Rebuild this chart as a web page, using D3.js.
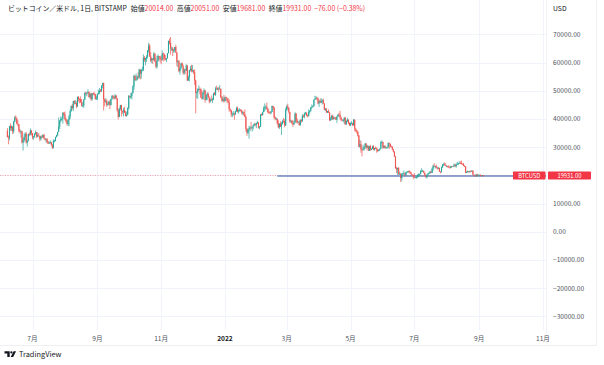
<!DOCTYPE html>
<html>
<head>
<meta charset="utf-8">
<script src="https://cdn.jsdelivr.net/npm/d3@7/dist/d3.min.js"></script>
<style>
  html, body { margin: 0; padding: 0; background: #fff; }
  svg { display: block; }
  text { font-family: "Noto Sans CJK JP", "Noto Sans", sans-serif; }
</style>
</head>
<body>
<svg id="chart" width="604" height="365"></svg>
<script>
// ---------------- DATA (BTC/USD daily, values in thousands of USD) ----------------
const startDate = "2021-06-07";
const firstOpen = 35.8;
const closes = [
 // 2021-06 (7..30)
 33.6,33.4,37.4,36.7,37.3,35.6,39.0,40.5,40.1,38.3,38.1,35.8,35.5,35.6,31.6,32.5,33.7,34.7,31.6,32.2,34.7,34.5,35.9,35.0,
 // 2021-07
 33.5,33.8,34.7,35.3,33.7,34.2,33.9,32.9,33.8,33.5,34.3,33.1,32.7,32.8,31.8,31.4,31.5,31.8,30.8,29.8,32.1,32.3,33.6,34.3,35.4,37.3,39.4,40.0,40.0,42.2,41.6,
 // 2021-08
 39.9,39.2,38.2,39.7,40.9,42.8,44.6,43.8,46.3,45.6,45.6,44.4,47.8,47.1,47.0,45.9,44.7,44.7,46.8,49.3,48.9,49.3,49.5,47.7,48.9,47.0,49.1,48.9,48.8,47.0,47.2,
 // 2021-09
 48.8,49.3,50.0,49.9,51.8,52.7,46.9,46.1,46.4,44.9,45.2,46.1,44.9,47.1,48.2,47.8,47.3,48.3,47.3,43.0,40.7,43.6,44.9,42.8,42.7,43.2,42.2,41.0,41.5,43.8,
 // 2021-10
 48.1,47.7,48.2,49.2,51.5,55.3,53.8,53.9,55.0,54.7,57.5,56.0,57.4,57.4,61.7,60.9,61.5,62.0,64.3,66.0,62.2,60.7,61.4,60.9,63.1,60.4,58.5,60.6,62.3,61.9,61.3,
 // 2021-11
 61.0,63.2,62.9,61.4,61.0,61.5,63.3,67.6,66.9,64.9,64.9,64.2,64.4,65.5,63.6,60.1,60.4,56.9,58.1,59.7,58.7,56.3,57.5,57.2,58.9,53.6,54.8,57.3,57.8,57.0,
 // 2021-12
 57.2,56.5,53.6,49.2,49.4,50.6,50.6,50.5,47.6,47.1,49.4,50.1,46.7,48.4,48.9,47.6,46.2,46.8,46.7,46.9,49.0,48.6,50.8,50.4,50.8,50.6,50.7,47.5,46.5,47.1,46.3,
 // 2022-01
 47.7,47.3,46.4,45.9,43.5,43.1,41.6,41.8,41.9,41.8,42.7,43.9,42.6,43.1,43.2,43.1,42.2,42.4,41.7,40.7,36.5,35.1,36.3,36.7,36.9,36.8,37.2,37.7,38.2,37.9,38.5,
 // 2022-02
 38.7,36.9,37.3,41.6,41.4,42.4,43.8,44.1,44.3,43.6,42.4,42.2,42.1,42.5,44.6,44.0,40.5,40.0,40.1,38.4,37.0,38.3,37.3,38.3,39.2,39.1,37.7,43.2,
 // 2022-03
 44.4,43.9,42.5,39.1,39.4,38.4,38.0,38.7,41.9,39.4,38.7,38.8,37.8,39.7,39.3,41.1,40.9,41.8,42.2,41.3,41.0,42.4,42.9,44.0,44.3,44.5,46.8,47.1,47.5,47.1,45.5,
 // 2022-04
 46.3,45.8,46.4,46.6,45.5,43.2,43.4,42.3,42.8,42.2,39.5,40.1,41.1,39.9,40.5,40.4,39.7,40.8,41.5,41.4,40.5,39.7,39.5,39.5,40.4,38.1,39.2,39.7,38.6,37.7,
 // 2022-05
 38.5,38.5,37.7,39.7,36.5,36.0,35.5,34.1,30.1,31.0,29.1,29.0,29.3,30.1,31.3,29.9,30.4,28.7,30.3,29.2,29.4,30.3,29.1,29.7,29.5,29.2,28.6,29.0,29.4,31.7,31.8,
 // 2022-06
 29.8,30.4,29.7,29.9,29.9,31.4,31.1,30.2,30.1,29.1,28.4,26.6,22.5,22.1,22.6,20.4,20.5,19.0,20.6,20.6,20.7,20.0,21.1,21.2,21.5,21.0,20.7,20.3,20.1,19.8,
 // 2022-07
 19.3,19.3,19.3,20.2,20.2,20.5,21.6,21.6,21.6,20.9,20.0,19.3,20.2,20.6,20.8,21.2,20.8,22.4,23.4,23.2,23.2,22.7,22.5,22.6,21.3,21.2,22.9,23.8,23.8,23.6,23.3,
 // 2022-08
 23.3,23.0,22.8,22.6,23.3,23.0,23.2,23.8,23.2,23.9,23.9,24.4,24.4,24.3,24.1,23.9,23.3,23.2,20.8,21.1,21.5,21.4,21.5,21.4,21.6,20.3,20.0,19.6,20.3,19.8,20.0,
 // 2022-09 (1..5)
 20.1,19.95,19.8,20.007,19.931
];
const highs = [
 36.8,34.1,37.5,38.4,37.7,37.4,39.3,41.0,41.3,40.5,39.5,38.2,36.4,36.0,35.7,33.3,34.8,35.2,35.4,32.7,34.7,35.2,36.6,36.0,
 35.0,33.9,34.9,35.9,35.3,35.1,35.0,33.9,34.1,34.3,34.6,34.7,33.3,33.1,33.2,32.2,31.9,32.4,31.9,31.0,32.8,32.6,33.7,34.4,35.4,40.5,39.5,40.9,40.6,42.3,42.4,
 42.6,40.4,39.7,39.9,41.4,43.4,44.7,45.3,46.4,46.6,46.7,46.2,47.9,48.1,47.3,48.0,47.1,45.9,47.0,49.3,49.7,49.4,50.5,49.8,49.2,49.3,49.2,49.3,49.6,48.9,48.2,
 48.9,50.3,51.0,50.6,51.9,52.8,52.9,47.3,47.3,47.0,45.9,46.4,46.7,47.2,48.4,48.5,48.1,48.8,48.4,47.3,43.6,44.0,45.0,45.0,42.9,43.9,44.3,42.8,42.6,44.1,
 48.5,48.3,49.2,49.5,51.9,55.7,55.3,56.1,55.4,56.5,57.8,57.6,57.6,58.5,62.9,62.3,61.7,62.6,64.4,67.0,66.6,63.7,61.7,61.5,63.7,63.3,61.5,62.4,62.9,62.3,62.4,
 62.4,64.3,63.5,63.1,62.6,61.6,63.3,67.8,68.5,69.0,65.6,65.5,64.9,65.5,66.3,63.6,60.8,60.9,58.4,59.9,60.1,59.3,57.9,57.7,59.4,59.1,55.3,57.4,58.8,59.2,
 59.1,57.4,57.6,53.9,49.7,50.9,51.9,51.2,50.8,50.1,49.5,50.8,50.3,48.7,49.5,49.4,48.0,47.3,48.3,47.5,49.3,49.6,51.4,51.8,51.2,51.3,52.0,50.7,48.1,47.9,48.5,
 47.9,47.9,47.5,47.5,47.0,43.7,43.1,42.3,42.8,42.2,43.0,44.3,44.4,43.4,43.8,43.5,43.2,42.7,42.6,43.4,41.1,36.8,36.4,37.5,37.5,38.9,37.2,38.0,38.6,38.4,38.7,
 39.3,38.8,37.4,41.7,42.0,42.6,44.5,45.5,44.8,45.8,43.9,43.0,42.7,42.8,44.7,44.6,44.2,40.9,40.5,40.1,39.5,38.4,39.2,38.9,39.7,40.3,39.9,44.0,
 45.0,45.4,44.1,42.5,39.6,39.4,39.5,39.3,42.4,42.0,40.2,39.3,39.3,39.8,39.8,41.7,41.5,42.3,42.4,42.3,41.5,43.4,43.0,44.2,45.1,44.8,46.9,48.2,48.1,47.7,47.6,
 46.7,47.2,47.4,46.9,47.2,45.5,43.9,43.9,42.8,43.4,42.4,40.7,41.5,41.5,40.9,40.7,40.6,41.1,41.7,42.2,42.9,40.8,39.9,39.9,40.6,40.8,39.5,40.4,39.9,38.8,
 38.7,39.2,38.6,40.0,39.8,36.6,36.1,35.5,34.3,32.6,32.2,30.0,30.9,30.3,31.4,31.3,30.8,30.5,30.5,30.8,29.6,30.5,30.7,29.8,30.2,29.9,29.4,29.2,29.5,32.2,32.4,
 31.9,30.6,30.7,29.9,30.2,31.7,31.6,31.3,30.6,30.3,29.4,28.5,26.9,23.0,22.7,22.9,21.3,20.7,20.7,21.0,21.7,20.9,21.2,21.5,21.6,21.8,21.5,21.2,20.4,20.2,
 20.8,19.4,19.6,20.3,20.7,20.6,21.8,22.5,21.9,21.6,20.9,20.0,20.3,20.8,21.2,21.6,21.7,22.8,23.8,24.3,23.4,23.8,23.0,23.0,22.7,21.4,23.1,24.0,24.4,24.6,24.2,
 23.5,23.4,23.6,23.2,23.4,23.3,23.3,24.2,23.9,24.2,24.8,24.4,24.9,25.0,25.2,24.2,24.4,23.6,23.2,21.4,21.7,21.5,21.6,21.8,21.8,21.8,20.3,20.1,20.4,20.6,20.5,
 20.2,20.4,20.0,20.02,20.051
];
const lows = [
 33.4,31.0,32.4,35.8,35.7,34.6,34.8,38.8,39.5,38.1,37.4,35.2,34.8,33.4,31.3,28.8,31.7,32.3,31.3,30.2,32.0,33.9,34.2,34.1,
 32.7,32.7,33.3,34.4,33.2,33.5,33.8,32.1,32.3,33.1,33.3,32.7,32.3,31.6,31.2,31.1,31.2,31.2,30.5,29.3,29.5,31.7,32.0,33.4,33.9,35.3,36.4,38.8,39.3,38.3,41.1,
 39.5,38.7,37.7,37.5,37.4,39.9,42.5,43.3,42.8,45.1,45.4,43.8,44.3,46.1,45.5,45.7,44.4,44.2,43.9,46.7,48.3,48.0,49.0,47.6,47.2,46.4,46.5,48.4,48.3,46.9,46.7,
 46.7,48.6,48.7,49.5,49.5,50.9,43.0,44.5,45.6,44.2,44.8,44.8,43.5,44.8,46.8,47.1,46.8,47.1,46.9,42.6,39.8,40.6,43.1,40.9,41.8,40.9,42.1,40.9,40.8,41.4,
 43.3,47.5,47.1,46.9,49.1,50.4,53.4,53.6,53.7,54.1,54.4,54.0,54.2,56.9,56.9,60.2,59.0,60.1,61.4,63.5,62.0,60.1,59.7,59.5,60.7,60.1,58.0,57.8,60.3,60.7,60.0,
 59.4,60.7,60.4,60.7,60.8,60.1,61.4,63.3,66.3,62.8,64.1,62.3,63.4,63.6,63.4,58.6,58.4,56.5,55.7,57.5,58.6,55.7,55.6,55.9,57.0,53.5,53.7,53.3,56.8,56.5,
 56.5,55.9,52.1,42.0,47.3,47.1,50.1,48.7,47.4,46.9,46.8,48.7,45.7,46.6,46.6,47.5,45.5,45.8,46.4,45.6,46.6,48.4,48.1,50.4,50.2,49.5,50.5,47.4,46.1,46.0,45.7,
 46.2,46.6,45.7,45.5,42.6,42.5,40.7,40.6,41.2,39.7,41.3,42.5,42.3,41.8,42.6,42.6,41.6,41.3,41.1,40.6,35.5,34.0,34.6,33.0,35.7,36.3,35.5,36.2,37.4,37.4,36.7,
 38.2,36.6,36.3,37.1,41.1,41.2,42.4,42.7,43.2,43.3,42.0,41.8,41.9,41.6,42.4,43.3,40.1,39.5,39.6,38.0,36.8,36.4,37.1,34.3,38.0,38.6,37.0,37.5,
 42.8,43.4,41.9,38.6,38.6,38.1,37.2,37.9,38.7,38.6,38.3,38.7,37.6,37.6,38.6,38.9,40.5,40.2,41.5,40.9,40.5,40.9,41.9,42.6,43.6,44.1,44.4,46.7,46.9,46.6,45.2,
 44.2,45.6,45.6,45.1,45.4,43.1,42.8,42.1,42.1,42.1,39.2,39.3,39.6,39.6,39.8,40.0,39.6,38.6,40.6,40.9,39.8,39.2,39.3,38.9,38.2,37.8,37.9,38.9,38.2,37.6,
 37.4,38.1,37.5,37.7,35.6,35.3,34.8,33.7,30.0,29.8,28.0,26.7,28.8,28.7,29.5,29.1,29.6,28.7,28.7,28.7,28.9,29.2,28.9,28.7,29.3,28.0,28.3,28.5,28.8,29.3,31.2,
 29.3,29.6,29.4,29.5,29.5,29.9,29.3,29.9,30.0,28.9,28.1,26.6,22.3,20.8,20.1,20.2,20.2,17.6,17.9,19.7,20.4,19.8,19.9,20.8,20.9,20.9,20.5,20.2,19.9,18.6,
 19.0,19.0,18.8,19.1,19.3,19.8,20.3,21.2,21.3,20.7,19.9,19.2,18.9,19.7,20.4,20.5,20.8,20.8,21.6,23.0,22.4,22.5,22.0,22.3,21.3,20.7,21.0,22.6,23.4,23.5,23.2,
 22.9,22.7,22.7,22.4,22.6,22.9,22.9,23.2,22.9,22.7,23.9,23.6,24.3,24.0,23.8,23.7,23.2,23.1,20.8,20.8,21.1,20.9,20.9,21.2,21.3,20.1,19.9,19.6,19.6,19.6,19.8,
 19.6,19.8,19.7,19.6,19.681
];

// header / last bar values
const symbolTitle = "ビットコイン／米ドル, 1日, BITSTAMP";
const ohlcLabels = ["始値", "高値", "安値", "終値"];
const ohlcValues = ["20014.00", "20051.00", "19681.00", "19931.00"];
const changeText = "−76.00 (−0.38%)";
const lastPrice = 19931;
const symbolLabel = "BTCUSD";
const hLineValue = 19750;
const hLineStart = "2022-02-20";

const yTickValues = [70000, 60000, 50000, 40000, 30000, 20000, 10000, 0, -10000, -20000, -30000];
// the 20000.00 label is hidden behind the last-price label in the reference
const yHiddenLabel = 20000;
const xTickDates = ["2021-07-01","2021-09-01","2021-11-01","2022-01-01","2022-03-01","2022-05-01","2022-07-01","2022-09-01","2022-11-01"];
const xTickLabels = ["7月","9月","11月","2022","3月","5月","7月","9月","11月"];

// ---------------- BUILD ----------------
const parse = d3.utcParse("%Y-%m-%d");
const n = Math.min(closes.length, highs.length, lows.length);
const t0 = parse(startDate);
const candles = [];
for (let i = 0; i < n; i++) {
  const o = i === 0 ? firstOpen : closes[i - 1];
  const c = closes[i];
  candles.push({
    date: d3.utcDay.offset(t0, i),
    o: o * 1000, c: c * 1000,
    h: Math.max(highs[i], o, c) * 1000,
    l: Math.min(lows[i], o, c) * 1000
  });
}

const plotRight = 546;
const plotBottom = 330;
const svg = d3.select("#chart");

const x = d3.scaleUtc()
  .domain([parse("2021-07-01"), parse("2022-11-01")])
  .range([32.5, 543]);
const y = d3.scaleLinear().domain([0, 70000]).range([231.7, 34.3]);

const up = "#26a69a", down = "#ef5350";

// clip
const defs = svg.append("defs");
defs.append("clipPath").attr("id", "plotClip")
  .append("rect").attr("x", 0).attr("y", 0).attr("width", plotRight).attr("height", plotBottom);
defs.append("clipPath").attr("id", "timeClip")
  .append("rect").attr("x", 0).attr("y", plotBottom).attr("width", plotRight + 4).attr("height", 16);

// grid
const grid = svg.append("g").attr("clip-path", "url(#plotClip)");
grid.selectAll("line.hg").data(yTickValues).join("line")
  .attr("x1", 0).attr("x2", plotRight)
  .attr("y1", d => Math.round(y(d)) + 0.5).attr("y2", d => Math.round(y(d)) + 0.5)
  .attr("stroke", "#f0f3fa").attr("stroke-width", 1);
grid.selectAll("line.vg").data(xTickDates).join("line")
  .attr("x1", d => Math.round(x(parse(d))) + 0.5).attr("x2", d => Math.round(x(parse(d))) + 0.5)
  .attr("y1", 0).attr("y2", plotBottom)
  .attr("stroke", "#f0f3fa").attr("stroke-width", 1);

// borders
svg.append("line").attr("x1", plotRight + 0.5).attr("x2", plotRight + 0.5).attr("y1", 0).attr("y2", 345)
  .attr("stroke", "#f2f3f6");
svg.append("line").attr("x1", 596.5).attr("x2", 596.5).attr("y1", 0).attr("y2", 345)
  .attr("stroke", "#eeeff3");
svg.append("line").attr("x1", 0).attr("x2", 597).attr("y1", 345.5).attr("y2", 345.5)
  .attr("stroke", "#eeeff3");

// price line (dotted) and horizontal ray
const plot = svg.append("g").attr("clip-path", "url(#plotClip)");
plot.append("line")
  .attr("x1", 0).attr("x2", plotRight)
  .attr("y1", y(lastPrice)).attr("y2", y(lastPrice))
  .attr("stroke", "#f5a0a8").attr("stroke-width", 1).attr("stroke-dasharray", "1,1.5");
plot.append("line")
  .attr("x1", x(parse(hLineStart))).attr("x2", plotRight)
  .attr("y1", y(hLineValue)).attr("y2", y(hLineValue))
  .attr("stroke", "#7088c0").attr("stroke-width", 1.3);

// candles
const cg = plot.append("g");
cg.selectAll("line.wick").data(candles).join("line")
  .attr("x1", d => x(d.date)).attr("x2", d => x(d.date))
  .attr("y1", d => y(d.h)).attr("y2", d => y(d.l))
  .attr("stroke", d => d.c >= d.o ? up : down).attr("stroke-width", 0.7);
cg.selectAll("rect.body").data(candles).join("rect")
  .attr("x", d => x(d.date) - 0.55).attr("width", 1.1)
  .attr("y", d => y(Math.max(d.o, d.c)))
  .attr("height", d => Math.max(0.8, Math.abs(y(d.o) - y(d.c))))
  .attr("fill", d => d.c >= d.o ? up : down);

// y axis labels
svg.append("text").attr("x", 553).attr("y", 10.5).attr("font-size", 6.8).attr("fill", "#131722").text("USD");
svg.selectAll("text.yl").data(yTickValues.filter(v => v !== yHiddenLabel)).join("text")
  .attr("x", 553).attr("y", d => y(d) + 2.4)
  .attr("font-size", 6.6).attr("fill", "#50535e")
  .text(d => (d < 0 ? "−" : "") + Math.abs(d).toFixed(2));

// x axis labels
svg.append("g").attr("clip-path", "url(#timeClip)")
  .selectAll("text").data(xTickDates).join("text")
  .attr("x", d => x(parse(d))).attr("y", 341)
  .attr("text-anchor", "middle").attr("font-size", 6.6)
  .attr("font-weight", (d, i) => xTickLabels[i] === "2022" ? "bold" : "normal")
  .attr("fill", (d, i) => xTickLabels[i] === "2022" ? "#131722" : "#50535e")
  .text((d, i) => xTickLabels[i]);

// last price labels
const ly = y(lastPrice);
svg.append("rect").attr("x", 513).attr("y", ly - 4).attr("width", 32.5).attr("height", 8).attr("rx", 0.8).attr("fill", "#f23645");
svg.append("text").attr("x", 529.2).attr("y", ly + 2.1).attr("text-anchor", "middle").attr("font-size", 5.8).attr("fill", "#fff").text(symbolLabel);
svg.append("rect").attr("x", 548).attr("y", ly - 4).attr("width", 43).attr("height", 8).attr("rx", 0.8).attr("fill", "#f23645");
svg.append("text").attr("x", 569.5).attr("y", ly + 2.1).attr("text-anchor", "middle").attr("font-size", 5.8).attr("fill", "#fff").text(lastPrice.toFixed(2));

// header
const head = svg.append("text").attr("x", 8).attr("y", 11).attr("font-size", 6.9);
head.append("tspan").attr("fill", "#131722").text(symbolTitle);
ohlcLabels.forEach((lab, i) => {
  head.append("tspan").attr("fill", "#131722").attr("dx", i === 0 ? 4 : 3.5).text(lab);
  head.append("tspan").attr("fill", "#f23645").text(ohlcValues[i]);
});
head.append("tspan").attr("fill", "#f23645").attr("dx", 3).text(changeText);

// TradingView logo
const logo = svg.append("g").attr("fill", "#131722");
logo.append("path").attr("d", "M4.5 351.2h5.2v5.8h-2.4v-3.6h-2.8z");
logo.append("circle").attr("cx", 11.4).attr("cy", 352.4).attr("r", 1.15);
logo.append("path").attr("d", "M13.6 351.2h2.5l-2.9 5.8h-2.5z");
svg.append("text").attr("x", 19).attr("y", 357).attr("font-size", 7.4).attr("fill", "#131722").text("TradingView");
</script>
</body>
</html>
